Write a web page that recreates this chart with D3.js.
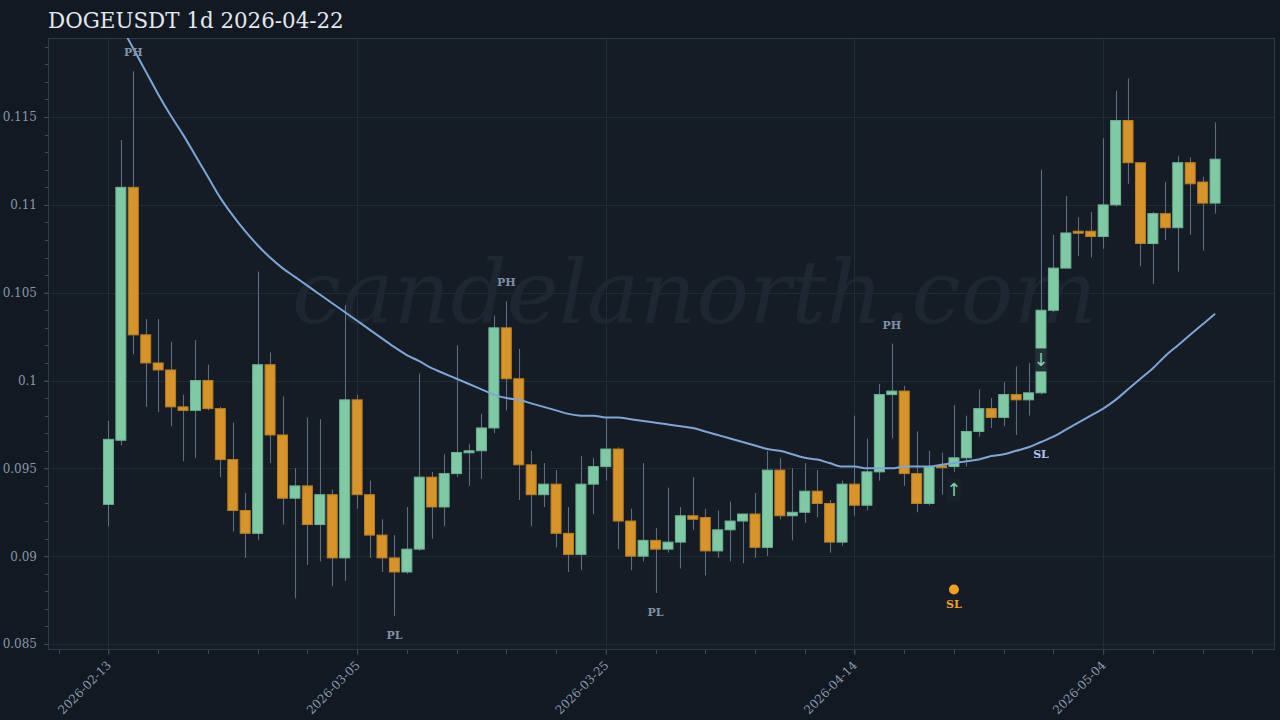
<!DOCTYPE html>
<html>
<head>
<meta charset="utf-8">
<script src="https://cdn.jsdelivr.net/npm/d3@7/dist/d3.min.js"></script>
<style>
  html, body { margin: 0; padding: 0; background: #121922; }
  svg { display: block; }
</style>
</head>
<body>
<svg id="chart" width="1280" height="720"></svg>
<script>
// ---------------- DATA ----------------
const title = "DOGEUSDT 1d 2026-04-22";
const startDate = "2026-02-13";
const openV = [0.09295,0.0966,0.1110,0.1026,0.1010,0.1006,0.0985,0.0983,0.1000,0.0984,
  0.0955,0.0926,0.0913,0.1009,0.0969,0.0933,0.0940,0.0918,0.0935,0.0899,
  0.0989,0.0935,0.0912,0.0899,0.0891,0.0904,0.0945,0.0928,0.0947,0.0959,
  0.0960,0.0973,0.1030,0.1001,0.0952,0.0935,0.0941,0.0913,0.0901,0.0941,
  0.0951,0.0961,0.0920,0.0900,0.0909,0.0904,0.0908,0.0923,0.0922,0.0903,
  0.0915,0.0920,0.0924,0.0905,0.0949,0.0923,0.0925,0.0937,0.0930,0.0908,
  0.0941,0.0929,0.0948,0.0992,0.0994,0.0947,0.0930,0.09515,0.0951,0.0956,
  0.0971,0.0984,0.0979,0.0992,0.0989,0.0993,0.1040,0.1064,0.1085,0.1085,
  0.1082,0.1100,0.1148,0.1124,0.1078,0.1095,0.1087,0.1124,0.1113,0.1101];
const highV = [0.0977,0.1137,0.1176,0.1035,0.1035,0.1022,0.0992,0.1023,0.1009,0.0985,
  0.0976,0.0936,0.1062,0.1016,0.0991,0.0950,0.0979,0.0978,0.0938,0.1043,
  0.0992,0.0943,0.0921,0.0912,0.0928,0.1004,0.0948,0.0958,0.1020,0.0964,
  0.0981,0.1037,0.1045,0.1018,0.0960,0.0953,0.0949,0.0928,0.0957,0.0956,
  0.0979,0.0962,0.0927,0.0953,0.0916,0.0939,0.0928,0.0945,0.0927,0.0926,
  0.0931,0.0924,0.0936,0.0960,0.0956,0.0950,0.0953,0.0949,0.0932,0.0943,
  0.0980,0.0967,0.0998,0.1021,0.0997,0.0971,0.0960,0.0959,0.0986,0.0980,
  0.0995,0.0990,0.0999,0.1008,0.1010,0.1120,0.1083,0.1105,0.1093,0.1096,
  0.1138,0.1165,0.1172,0.1124,0.1096,0.1113,0.1128,0.1127,0.1116,0.1147];
const lowV = [0.0917,0.0963,0.1015,0.0985,0.0982,0.0974,0.0954,0.0956,0.0983,0.0945,
  0.0914,0.0899,0.0909,0.0953,0.0918,0.0876,0.0895,0.0897,0.0883,0.0886,
  0.0927,0.0899,0.0891,0.0866,0.0890,0.0903,0.0910,0.0917,0.0945,0.0940,
  0.0944,0.0970,0.0983,0.0932,0.0917,0.0928,0.0905,0.0891,0.0892,0.0924,
  0.0943,0.0904,0.0892,0.0897,0.0879,0.0902,0.0893,0.0915,0.0889,0.0899,
  0.0897,0.0896,0.0899,0.0900,0.0921,0.0909,0.0919,0.0922,0.0902,0.0906,
  0.0923,0.0926,0.0943,0.0967,0.0940,0.0925,0.0929,0.0935,0.0948,0.0951,
  0.0968,0.0973,0.0974,0.0969,0.0980,0.0992,0.1039,0.1064,0.1071,0.1070,
  0.1075,0.1099,0.1112,0.1065,0.1055,0.1080,0.1062,0.1083,0.1074,0.1095];
const closeV = [0.09665,0.1110,0.1026,0.1010,0.1006,0.0985,0.0983,0.1000,0.0984,0.0955,
  0.0926,0.0913,0.1009,0.0969,0.0933,0.0940,0.0918,0.0935,0.0899,0.0989,
  0.0935,0.0912,0.0899,0.0891,0.0904,0.0945,0.0928,0.0947,0.0959,0.0960,
  0.0973,0.1030,0.1001,0.0952,0.0935,0.0941,0.0913,0.0901,0.0941,0.0951,
  0.0961,0.0920,0.0900,0.0909,0.0904,0.0908,0.0923,0.0921,0.0903,0.0915,
  0.0920,0.0924,0.0905,0.0949,0.0923,0.0925,0.0937,0.0930,0.0908,0.0941,
  0.0929,0.0948,0.0992,0.0994,0.0947,0.0930,0.0951,0.0951,0.0956,0.0971,
  0.0984,0.0979,0.0992,0.0989,0.0993,0.1040,0.1064,0.1084,0.1084,0.1082,
  0.1100,0.1148,0.1124,0.1078,0.1095,0.1087,0.1124,0.1112,0.1101,0.1126];
const emaV = [0.1215,0.1202,0.1189,0.1176,0.1163,0.1151,0.1140,0.1128,0.1116,0.1104,
  0.1094,0.1085,0.1077,0.1070,0.1064,0.1059,0.1054,0.1049,0.1044,0.1039,
  0.1034,0.1029,0.1024,0.1019,0.10145,0.1011,0.1007,0.1004,0.1001,0.0998,
  0.0995,0.0992,0.0990,0.0989,0.0987,0.0985,0.0983,0.0981,0.0980,0.0980,
  0.0979,0.0979,0.0978,0.0977,0.0976,0.0975,0.0974,0.0973,0.0971,0.0969,
  0.0967,0.0965,0.0963,0.0961,0.0960,0.0958,0.0956,0.0955,0.0953,0.0951,
  0.0951,0.0950,0.0950,0.0950,0.0951,0.0951,0.0951,0.0952,0.0953,0.0954,
  0.0955,0.0957,0.0958,0.0960,0.0962,0.0965,0.0968,0.0972,0.0976,0.0980,
  0.0984,0.0989,0.0995,0.1001,0.1007,0.1014,0.1020,0.1026,0.1032,0.1038];
const yTickValues = [0.085, 0.09, 0.095, 0.1, 0.105, 0.11, 0.115];
const yTickLabels = ["0.085", "0.09", "0.095", "0.1", "0.105", "0.11", "0.115"];
const xTickLabels = ["2026-02-13", "2026-03-05", "2026-03-25", "2026-04-14", "2026-05-04"];
const pivotIdx = [2, 32, 63, 23, 44];
const pivotType = ["PH", "PH", "PH", "PL", "PL"];
const arrowIdx = [68, 75];
const arrowType = ["up", "down"];
const arrowPrice = [0.0938, 0.1012];
const slDotIdx = 68, slDotPrice = 0.0881;
const slLineIdx = 75, slLinePrice = 0.0958;
const watermark = "candelanorth.com";

// ---------------- LAYOUT ----------------
const W = 1280, H = 720;
const plot = { left: 48, right: 1275, top: 38, bottom: 650 };
const svg = d3.select("#chart");
const parse = d3.timeParse("%Y-%m-%d");
const d0 = parse(startDate);

const x = d3.scaleLinear().domain([-4.86, 93.82]).range([plot.left, plot.right]);
const y = d3.scaleLinear().domain([0.084658, 0.11950]).range([plot.bottom, plot.top]);

svg.append("rect").attr("width", W).attr("height", H).attr("fill", "#121922");
svg.append("rect").attr("x", plot.left).attr("y", plot.top)
  .attr("width", plot.right - plot.left).attr("height", plot.bottom - plot.top)
  .attr("fill", "#151c26");

svg.append("defs").append("clipPath").attr("id", "clip").append("rect")
  .attr("x", plot.left).attr("y", plot.top)
  .attr("width", plot.right - plot.left).attr("height", plot.bottom - plot.top);

// grid
const majorIdx = xTickLabels.map(s => d3.timeDay.count(d0, parse(s)));
const grid = svg.append("g");
grid.selectAll("line.h").data(yTickValues).join("line")
  .attr("x1", plot.left).attr("x2", plot.right)
  .attr("y1", d => Math.round(y(d)) + 0.5).attr("y2", d => Math.round(y(d)) + 0.5)
  .attr("stroke", "#1f2b37").attr("stroke-width", 1);
grid.selectAll("line.v").data(majorIdx).join("line")
  .attr("x1", d => Math.round(x(d)) + 0.5).attr("x2", d => Math.round(x(d)) + 0.5)
  .attr("y1", plot.top).attr("y2", plot.bottom)
  .attr("stroke", "#1f2b37").attr("stroke-width", 1);

// watermark
svg.append("text")
  .attr("x", 694.5).attr("y", 323)
  .attr("text-anchor", "middle")
  .attr("font-family", "DejaVu Serif").attr("font-style", "italic")
  .attr("font-size", 88).attr("fill", "#1d2631")
  .text(watermark);

// axes
const yAxis = d3.axisLeft(y).tickValues(yTickValues)
  .tickFormat((d, i) => yTickLabels[i]).tickSize(4).tickPadding(7);
const gy = svg.append("g").attr("transform", `translate(${plot.left},0)`).call(yAxis);
const yMinor = d3.range(85, 120).map(v => v / 1000).filter(v => v >= y.domain()[0] && v <= y.domain()[1]);
svg.append("g").selectAll("line").data(yMinor).join("line")
  .attr("x1", plot.left - 3).attr("x2", plot.left)
  .attr("y1", d => Math.round(y(d)) + 0.5).attr("y2", d => Math.round(y(d)) + 0.5)
  .attr("stroke", "#3a4a5c");

const xTicksAll = d3.range(-4, 94, 4);
const xAxis = d3.axisBottom(x).tickValues(majorIdx)
  .tickFormat((d, i) => xTickLabels[i]).tickSize(5).tickPadding(4);
const gx = svg.append("g").attr("transform", `translate(0,${plot.bottom})`).call(xAxis);
svg.append("g").selectAll("line").data(xTicksAll).join("line")
  .attr("x1", d => Math.round(x(d)) + 0.5).attr("x2", d => Math.round(x(d)) + 0.5)
  .attr("y1", plot.bottom).attr("y2", plot.bottom + 4)
  .attr("stroke", "#3a4a5c");

[gx, gy].forEach(g => {
  g.select(".domain").remove();
  g.selectAll(".tick line").attr("stroke", "#3a4a5c");
  g.selectAll(".tick text").attr("fill", "#8797ab")
    .attr("font-family", "DejaVu Serif").attr("font-size", 12);
});
gx.selectAll(".tick text")
  .attr("text-anchor", "end")
  .attr("x", 0).attr("y", 0).attr("dx", 0).attr("dy", 0)
  .attr("transform", "translate(3,16) rotate(-45)");

// plot border
svg.append("rect").attr("x", plot.left + 0.5).attr("y", plot.top + 0.5)
  .attr("width", plot.right - plot.left - 1).attr("height", plot.bottom - plot.top - 1)
  .attr("fill", "none").attr("stroke", "#2b3b4d").attr("stroke-width", 1);

const gPlot = svg.append("g").attr("clip-path", "url(#clip)");

// candles
const bw = 10;
const candles = gPlot.append("g").selectAll("g").data(openV.map((o, i) => i)).join("g");
candles.append("line")
  .attr("x1", i => Math.round(x(i)) + 0.5).attr("x2", i => Math.round(x(i)) + 0.5)
  .attr("y1", i => y(highV[i])).attr("y2", i => y(lowV[i]))
  .attr("stroke", "#6a7b8e").attr("stroke-width", 1.1).attr("stroke-opacity", 0.85);
candles.append("rect")
  .attr("x", i => x(i) - bw / 2)
  .attr("y", i => y(Math.max(openV[i], closeV[i])))
  .attr("width", bw)
  .attr("height", i => Math.max(2, Math.abs(y(openV[i]) - y(closeV[i]))))
  .attr("fill", i => closeV[i] >= openV[i] ? "#80c9a5" : "#d6942a")
  .attr("stroke", i => closeV[i] >= openV[i] ? "#6cb391" : "#b97e22")
  .attr("stroke-width", 1);

// EMA line
const line = d3.line().x((d, i) => x(i)).y(d => y(d)).curve(d3.curveMonotoneX);
gPlot.append("path").datum(emaV).attr("d", line)
  .attr("fill", "none").attr("stroke", "#7ea5d6").attr("stroke-width", 2);

// pivot labels
pivotIdx.forEach((i, k) => {
  const isH = pivotType[k] === "PH";
  svg.append("text")
    .attr("x", x(i)).attr("y", isH ? y(highV[i]) - 15 : y(lowV[i]) + 23)
    .attr("text-anchor", "middle")
    .attr("font-family", "DejaVu Serif").attr("font-weight", "bold").attr("font-size", 11)
    .attr("fill", "#8090a6").text(pivotType[k]);
});

// arrows with dark box
arrowIdx.forEach((i, k) => {
  const cy = y(arrowPrice[k]);
  svg.append("rect").attr("x", x(i) - 7).attr("y", cy - 11).attr("width", 14).attr("height", 23)
    .attr("fill", "#18212b").attr("fill-opacity", 0.9);
  svg.append("text").attr("x", x(i)).attr("y", cy + 7)
    .attr("text-anchor", "middle").attr("font-family", "DejaVu Sans").attr("font-size", 18)
    .attr("fill", "#80d0a8").text(arrowType[k] === "up" ? "↑" : "↓");
});

// SL markers
svg.append("circle").attr("cx", x(slDotIdx)).attr("cy", y(slDotPrice)).attr("r", 5)
  .attr("fill", "#f0a020");
svg.append("text").attr("x", x(slDotIdx)).attr("y", y(slDotPrice) + 18)
  .attr("text-anchor", "middle").attr("font-family", "DejaVu Serif").attr("font-weight", "bold")
  .attr("font-size", 11).attr("fill", "#f0a020").text("SL");
svg.append("text").attr("x", x(slLineIdx)).attr("y", y(slLinePrice) + 4)
  .attr("text-anchor", "middle").attr("font-family", "DejaVu Serif").attr("font-weight", "bold")
  .attr("font-size", 11).attr("fill", "#a9c6ee").text("SL");

// title
svg.append("text").attr("x", 48).attr("y", 28)
  .attr("font-family", "DejaVu Serif").attr("font-size", 21.4)
  .attr("fill", "#e3e8ee").text(title);
</script>
</body>
</html>
